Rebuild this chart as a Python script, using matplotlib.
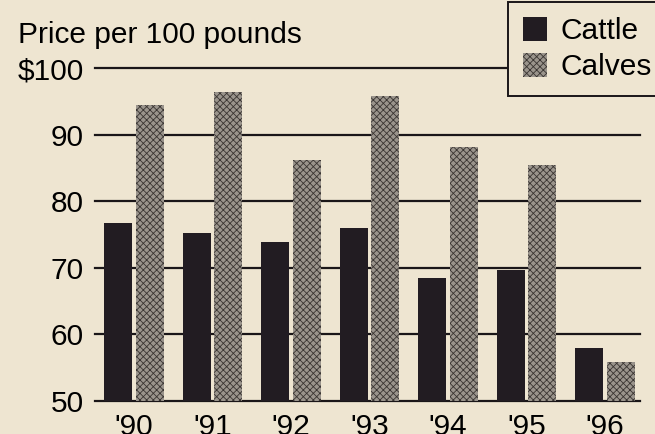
import matplotlib.pyplot as plt
import numpy as np

years = ["'90", "'91", "'92", "'93", "'94", "'95", "'96"]
cattle = [76.7, 75.2, 73.9, 76.0, 68.4, 69.6, 57.9]
calves = [94.4, 96.4, 86.2, 95.8, 88.2, 85.4, 55.8]
yticks = [50, 60, 70, 80, 90, 100]
ylabels = ['50', '60', '70', '80', '90', '$100']

paper = '#eee5d1'
plt.rcParams['font.family'] = ['Liberation Sans', 'DejaVu Sans']
plt.rcParams['hatch.linewidth'] = 0.6
plt.rcParams['hatch.color'] = '#3a3532'

fig = plt.figure(figsize=(6.55, 4.34), dpi=100, facecolor=paper)
ax = fig.add_axes([95 / 655, 1 - 400.7 / 434, 545 / 655, 332.7 / 434])
ax.set_facecolor(paper)

x = np.arange(len(years))
w = 0.36
ax.bar(x - 0.2, cattle, w, color='#221c22', zorder=2, label='Cattle')
ax.bar(x + 0.2, calves, w, color='#9a948c', hatch='xxxxx', edgecolor='#3a3532',
       linewidth=0, zorder=2, label='Calves')

for y in yticks:
    ax.axhline(y, color='#1a1618', lw=1.6, zorder=1, clip_on=False)

ax.set_xlim(-0.497, 6.446)
ax.set_ylim(50, 100)
ax.set_yticks(yticks, ylabels, fontsize=21.5)
ax.set_xticks(x, years, fontsize=21.5)
ax.tick_params(length=0)
ax.tick_params(axis='y', pad=8)
ax.tick_params(axis='x', pad=9)
for s in ax.spines.values():
    s.set_visible(False)

fig.text(18 / 655, 1 - 43 / 434, 'Price per 100 pounds', fontsize=21.5,
         va='baseline', ha='left')

leg = fig.legend(loc='upper left', bbox_to_anchor=(508 / 655, 0.995), fontsize=21.5,
                 frameon=True, fancybox=False, edgecolor='#1a1618', facecolor=paper,
                 framealpha=1, handlelength=0.82, handleheight=0.85,
                 handletextpad=0.45, labelspacing=0.25, borderpad=0.5,
                 borderaxespad=0)
leg.get_frame().set_linewidth(1.4)
leg.set_zorder(5)

fig.savefig('out.png', dpi=100, facecolor=paper)
